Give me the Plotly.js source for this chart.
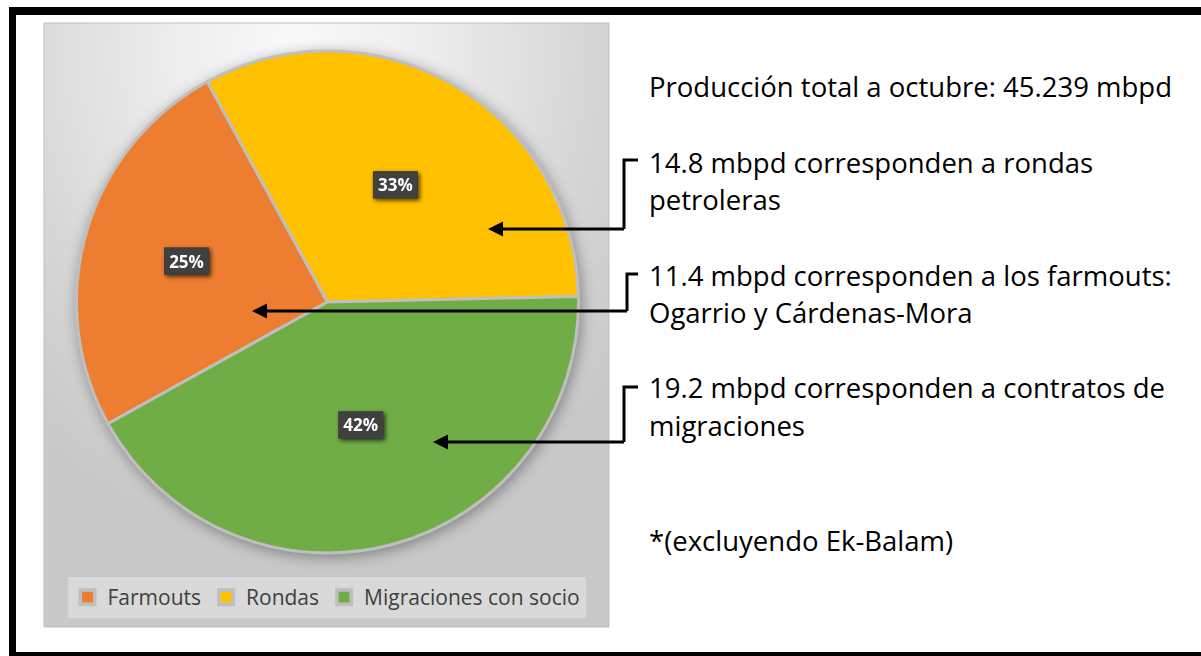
<!DOCTYPE html>
<html>
<head>
<meta charset="utf-8">
<script src="https://cdn.plot.ly/plotly-3.0.1.min.js"></script>
<style>
  html, body { margin:0; padding:0; background:#ffffff; }
  #wrap { position:relative; width:1201px; height:656px; overflow:hidden; }
  #bg { position:absolute; left:44px; top:23px; width:565px; height:604px;
        background: radial-gradient(ellipse 75% 80% at 45% 5%, #fafafa 0%, #ededed 30%, #d6d6d6 70%, #c8c8c8 100%); }
  #chart { position:absolute; left:0; top:0; width:1201px; height:656px; }
  .pielayer { filter: drop-shadow(2px 3px 7px rgba(0,0,0,0.35)); }
</style>
</head>
<body>
<div id="wrap">
  <div id="bg"></div>
  <div id="chart"></div>
</div>
<script>
// ---- data ----
const categories = ["Farmouts", "Rondas", "Migraciones con socio"];
const production = [11.4, 14.8, 19.2];   // mbpd
const sliceColors = ["#ED7D31", "#FFC000", "#70AD47"];
const noteLines = [
  "Producción total a octubre: 45.239 mbpd",
  "14.8 mbpd corresponden a rondas",
  "petroleras",
  "11.4 mbpd corresponden a los farmouts:",
  "Ogarrio y Cárdenas-Mora",
  "19.2 mbpd corresponden a contratos de",
  "migraciones",
  "*(excluyendo Ek-Balam)"
];
const noteY = [86, 162, 199, 275, 312, 387, 425, 540];

const W = 1201, H = 656;
const px = x => x / W;
const py = y => 1 - y / H;

const FONT = "Open Sans, Noto Sans, sans-serif";

const shapes = [
  // outer black frame
  {type:"rect", xref:"paper", yref:"paper", x0:px(9), x1:px(1201), y0:py(7), y1:py(15), fillcolor:"#000", line:{width:0}},
  {type:"rect", xref:"paper", yref:"paper", x0:px(9), x1:px(16), y0:py(7), y1:py(656), fillcolor:"#000", line:{width:0}},
  {type:"rect", xref:"paper", yref:"paper", x0:px(9), x1:px(1201), y0:py(652), y1:py(657), fillcolor:"#000", line:{width:0}},
  // chart area border
  {type:"rect", xref:"paper", yref:"paper", x0:px(44), x1:px(609), y0:py(23), y1:py(627), line:{color:"#bfbfbf", width:1}, fillcolor:"rgba(0,0,0,0)"},
  // connector brackets
  {type:"path", xref:"paper", yref:"paper", path:`M${px(638)},${py(160)} L${px(624)},${py(160)} L${px(624)},${py(229)}`, line:{color:"#000", width:3}},
  {type:"path", xref:"paper", yref:"paper", path:`M${px(638)},${py(274)} L${px(627)},${py(274)} L${px(627)},${py(311)}`, line:{color:"#000", width:3}},
  {type:"path", xref:"paper", yref:"paper", path:`M${px(638)},${py(387)} L${px(624)},${py(387)} L${px(624)},${py(442)}`, line:{color:"#000", width:3}}
];

const annotations = [];
noteLines.forEach((t, i) => {
  annotations.push({
    text: t, xref:"paper", yref:"paper", x:px(647), y:py(noteY[i]),
    xanchor:"left", yanchor:"middle", showarrow:false,
    font:{family:FONT, size:27.5, color:"#000"}
  });
});
// arrows (tip, elbow)
[[488, 229, 625.5], [252, 311, 628.5], [433, 442, 625.5]].forEach(a => {
  annotations.push({
    text:"", xref:"paper", yref:"paper", x:px(a[0]), y:py(a[1]),
    ax: a[2] - a[0], ay: 0, showarrow:true, arrowhead:2, arrowsize:1,
    arrowwidth:3, arrowcolor:"#000", standoff:0
  });
});

const trace = {
  type:"pie",
  labels: categories,
  values: production,
  sort:false,
  direction:"clockwise",
  rotation:241,
  marker:{colors:sliceColors, line:{color:"#bfbfbf", width:3}},
  textinfo:"percent",
  texttemplate:"%{percent:.0%}",
  textposition:"inside",
  insidetextorientation:"horizontal",
  insidetextfont:{family:FONT, size:17, color:"#ffffff", weight:"bold"},
  hoverinfo:"label+value+percent",
  domain:{x:[px(76.5), px(578.5)], y:[py(553), py(51)]}
};

const layout = {
  width:W, height:H,
  margin:{l:0, r:0, t:0, b:0},
  paper_bgcolor:"rgba(0,0,0,0)",
  plot_bgcolor:"rgba(0,0,0,0)",
  showlegend:true,
  legend:{
    orientation:"h", x:px(326.5), xanchor:"center", y:py(618), yanchor:"bottom",
    bgcolor:"#d9d9d9", borderwidth:0,
    font:{family:FONT, size:21, color:"#404040"},
    traceorder:"normal"
  },
  shapes, annotations
};

function addLabelBoxes() {
  const gd = document.getElementById("chart");
  gd.querySelectorAll(".slicetext").forEach(t => {
    const parent = t.parentNode;
    if (parent.querySelector("rect.lblbox")) return;
    const bb = t.getBBox();
    const ns = "http://www.w3.org/2000/svg";
    const r = document.createElementNS(ns, "rect");
    r.setAttribute("class", "lblbox");
    r.setAttribute("x", bb.x - 5);
    r.setAttribute("y", bb.y - 2);
    r.setAttribute("width", bb.width + 10);
    r.setAttribute("height", bb.height + 4);
    r.setAttribute("fill", "#404040");
    r.setAttribute("style", "filter: drop-shadow(2px 2px 2px rgba(0,0,0,0.4))");
    const tr = t.getAttribute("transform");
    if (tr) r.setAttribute("transform", tr);
    parent.insertBefore(r, t);
  });
  gd.querySelectorAll(".legendpoints path").forEach(p => {
    p.setAttribute("transform", (p.getAttribute("transform") || "") + " scale(1.2)");
  });
}

Plotly.newPlot("chart", [trace], layout, {displayModeBar:false, staticPlot:true}).then(addLabelBoxes);
</script>
</body>
</html>
